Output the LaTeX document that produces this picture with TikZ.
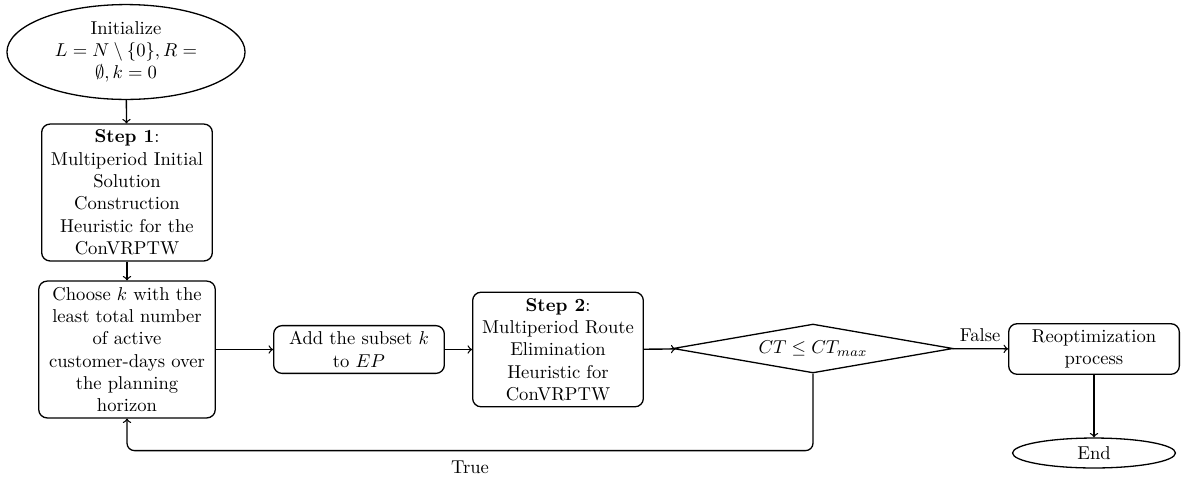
\documentclass[tikz,border=0pt]{standalone}
\usepackage{amssymb}
\usetikzlibrary{shapes.geometric}
\newcommand{\nohyph}{\hyphenpenalty=10000\relax\exhyphenpenalty=10000\relax}
\begin{document}
\begin{tikzpicture}[x=0.5376pt,y=-0.5376pt,
  line width=0.7pt,
  basefont/.style={font=\fontsize{10}{12}\selectfont\nohyph},
  procbox/.style={draw, rounded corners=4.5pt, align=flush center, inner sep=3.2pt, basefont},
  termshape/.style={draw, ellipse, align=flush center, inner sep=1pt, basefont},
  decshape/.style={draw, diamond, aspect=5.7, inner sep=0pt, minimum width=150.5pt, minimum height=26.3pt, basefont},
  lbl/.style={basefont},
  flow/.style={->}]
\useasboundingbox (0,0) rectangle (1184,479);

\node[termshape, text width=3cm, minimum width=128pt, minimum height=51pt] (start) at (126,52)
  {Initialize\\ $L=N\setminus\{0\}, R=\emptyset, k=0$};
\node[procbox, text width=3cm] (step1) at (127,192.5)
  {\textbf{Step 1}: Multiperiod Initial Solution Construction Heuristic for the ConVRPTW};
\node[procbox, text width=88.5pt] (choose) at (127,349.5)
  {Choose $k$ with the least total number of active customer-days over the planning horizon};
\node[procbox, text width=3cm] (add) at (359,349.5)
  {Add the subset $k$ to $EP$};
\node[procbox, text width=3cm] (step2) at (558,349.5)
  {\textbf{Step 2}: Multiperiod Route Elimination Heuristic for ConVRPTW};
\node[decshape] (dec) at (813,348.5) {$CT\leq CT_{max}$};
\node[procbox, text width=3cm] (reopt) at (1094,349)
  {Reoptimization process};
\node[termshape, minimum width=87.6pt, minimum height=16.1pt] (end) at (1094,453) {End};

\draw[flow] (start) -- (step1);
\draw[flow] (step1) -- (choose);
\draw[flow] (choose) -- (add);
\draw[flow] (add) -- (step2);
\draw[flow] (step2) -- (dec);
\draw[flow] (dec) -- node[lbl, above] {False} (reopt);
\draw[flow] (reopt) -- (end);
\draw[flow, rounded corners=4pt] (dec.south) -- ++(0,77) -| node[lbl, pos=0.25, below=2pt] {True} (choose.south);
\end{tikzpicture}
\end{document}
